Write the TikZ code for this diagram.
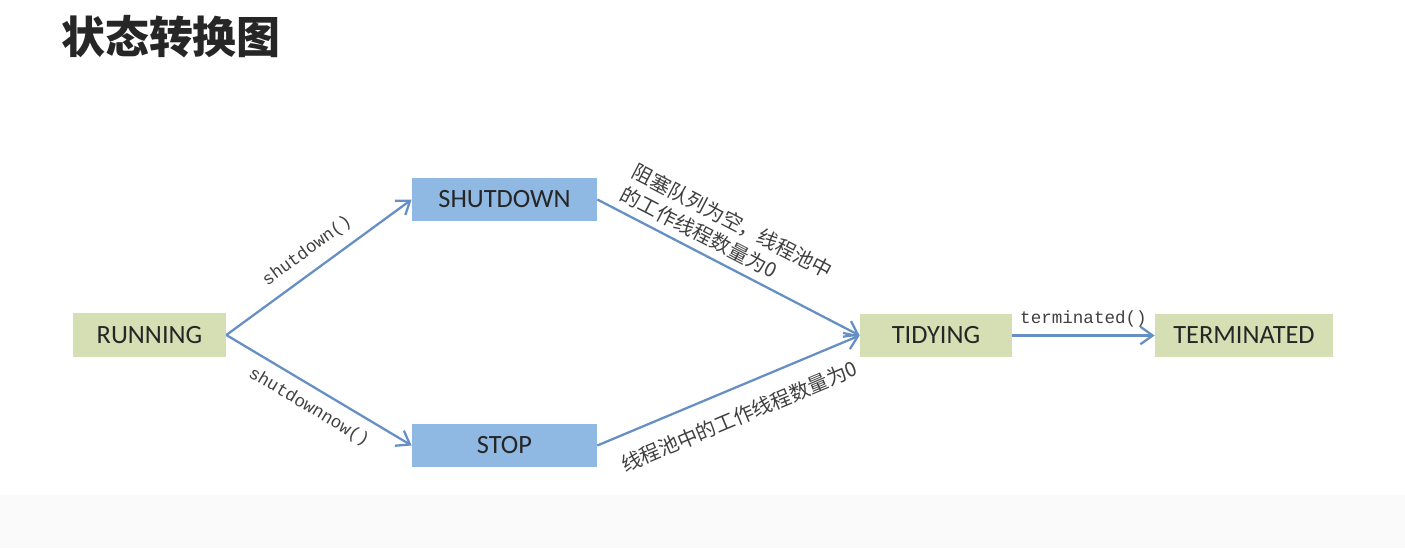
\documentclass[tikz,border=0pt]{standalone}
\usepackage{fontspec}
\setmainfont{Carlito}
\newfontfamily\cjk{Noto Sans CJK SC}
\newfontfamily\codefont{Liberation Mono}
\usepackage{xcolor}
\usetikzlibrary{arrows.meta, positioning}

\definecolor{stategreen}{HTML}{D5DFB3}
\definecolor{stateblue}{HTML}{8FB8E2}
\definecolor{arrowblue}{HTML}{6690C4}

\begin{document}
\begin{tikzpicture}[
          statebox/.style={rectangle, fill=stategreen, minimum height=0.87cm, font=\fontsize{15}{18}\selectfont, text=black!85},
          bluebox/.style={statebox, fill=stateblue},
          flow/.style={draw=arrowblue, line width=1.3pt, -{Straight Barb[length=7pt, width=10pt, line width=1.3pt]}},
          codelabel/.style={font=\codefont\fontsize{10}{12}\selectfont, text=black!75, inner sep=1pt},
          cjklabel/.style={font=\cjk\fontsize{11.5}{14.5}\selectfont, text=black!75, inner sep=1pt, align=left}
        ]
          \useasboundingbox (0,0) rectangle (28.1,-10.96);
          % faint grey band at the bottom
          \fill[black!2] (0,-9.9) rectangle (28.1,-10.96);

          % Title
          \node[font=\cjk\bfseries\fontsize{25}{30}\selectfont, text=black!85] (title) at (3.42,-0.74) {状态转换图};

          % States
          \node[statebox, minimum width=3.06cm] (running) at (2.99,-6.70) {RUNNING};
          \node[bluebox, minimum width=3.7cm] (shutdown) at (10.09,-3.99) {SHUTDOWN};
          \node[bluebox, minimum width=3.7cm] (stop) at (10.09,-8.91) {STOP};
          \node[statebox, minimum width=3.04cm] (tidying) at (18.72,-6.71) {TIDYING};
          \node[statebox, minimum width=3.56cm] (terminated) at (24.88,-6.71) {TERMINATED};

          % Transitions
          \draw[flow] (running.east) -- node[codelabel, sloped, above=5pt] {shutdown()} (shutdown.west);
          \draw[flow] (running.east) -- node[codelabel, sloped, below=5pt] {shutdownnow()} (stop.west);
          \draw[flow] (shutdown.east) -- node[cjklabel, sloped, above=3pt, pos=0.44] {阻塞队列为空，线程池中\\的工作线程数量为0} (tidying.west);
          \draw[flow] (stop.east) -- node[cjklabel, sloped, below=9pt, pos=0.5] {线程池中的工作线程数量为0} (tidying.west);
          \draw[flow] (tidying.east) -- node[codelabel, above=3pt] {terminated()} (terminated.west);
        \end{tikzpicture}
\end{document}
